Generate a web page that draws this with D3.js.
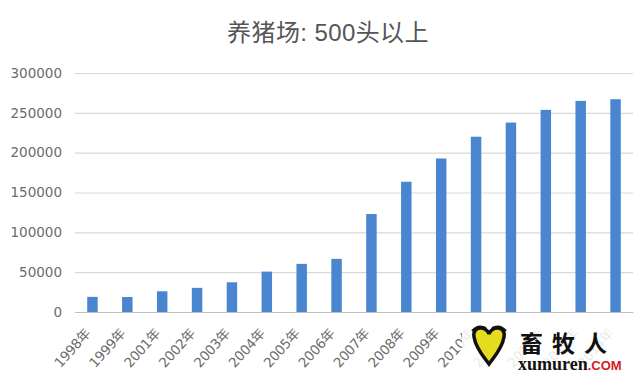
<!DOCTYPE html>
<html>
<head>
<meta charset="utf-8">
<script src="https://cdn.jsdelivr.net/npm/d3@7"></script>
<style>
  body { margin: 0; background: #fff; }
  svg { display: block; font-family: "Liberation Sans", "Noto Sans CJK SC", sans-serif; }
</style>
</head>
<body>
<div id="chart"></div>
<script>
// 养猪场: 500头以上 -- number of farms per year

const years = ["1998年", "1999年", "2001年", "2002年", "2003年", "2004年", "2005年", "2006年",
  "2007年", "2008年", "2009年", "2010年", "2011年", "2012年", "2013年", "2014年"];
const farms = [19000, 18800, 26000, 30300, 37300, 50700, 60400, 66700,
  123000, 163500, 192700, 220000, 237800, 253700, 265000, 267100];
const yTicks = [0, 50000, 100000, 150000, 200000, 250000, 300000];

const width = 640, height = 373;
const margin = { top: 73, right: 7, bottom: 61, left: 75 };

const svg = d3.select("#chart").append("svg")
  .attr("width", width)
  .attr("height", height);

const x = d3.scaleBand()
  .domain(years)
  .range([margin.left, width - margin.right])
  .paddingInner(0.7)
  .paddingOuter(0.35);

const y = d3.scaleLinear()
  .domain([0, 300000])
  .range([height - margin.bottom, margin.top]);

// title
svg.append("text")
  .attr("x", 328)
  .attr("y", 41)
  .attr("text-anchor", "middle")
  .attr("fill", "#555")
  .attr("font-size", 24)
  .attr("letter-spacing", "0.4")
  .text("养猪场: 500头以上");

// gridlines + y labels
const yAxis = svg.append("g")
  .attr("transform", `translate(${margin.left},0)`)
  .call(d3.axisLeft(y).tickValues(yTicks).tickSize(-(width - margin.left - margin.right)).tickPadding(13).tickFormat(d3.format("d")));
yAxis.select(".domain").remove();
yAxis.selectAll(".tick line").attr("stroke", "#d9d9d9").attr("stroke-width", 1.2);
yAxis.selectAll(".tick text")
  .attr("fill", "#6b6b6b")
  .attr("font-size", 13.5)
  .attr("font-family", "DejaVu Sans, sans-serif");

// bars
svg.append("g").selectAll("rect")
  .data(farms)
  .join("rect")
  .attr("x", (d, i) => x(years[i]))
  .attr("y", d => y(d))
  .attr("width", x.bandwidth())
  .attr("height", d => y(0) - y(d))
  .attr("fill", "#4a86cf");

// x axis
const xAxis = svg.append("g")
  .attr("transform", `translate(0,${y(0)})`)
  .call(d3.axisBottom(x).tickSize(0).tickPadding(0));
xAxis.select(".domain").attr("stroke", "#bfbfbf").attr("stroke-width", 1.2);
xAxis.selectAll(".tick text")
  .attr("fill", "#6b6b6b")
  .attr("font-size", 13.5)
  .attr("font-family", "DejaVu Sans, Noto Sans CJK SC, sans-serif")
  .attr("letter-spacing", "-0.3")
  .attr("text-anchor", "end")
  .attr("y", 0)
  .attr("dy", 0)
  .attr("transform", "translate(-1,22) rotate(-48)");

// watermark (covers the last labels, as in the source image)
const wm = svg.append("g");
wm.append("rect")
  .attr("x", 462).attr("y", 318).attr("width", 178).attr("height", 55)
  .attr("fill", "#fff").attr("opacity", 0.85);
wm.append("path")
  .attr("d", "M474,337 C472,325 487,326 489,334 C491,326 506,325 504,337 C502,349 494,357 489,364 C484,357 476,349 474,337 Z")
  .attr("fill", "#e6dc1e")
  .attr("stroke", "#111")
  .attr("stroke-width", 3.5);
wm.append("path")
  .attr("d", "M472,331 Q478,324 486,328 M492,328 Q500,324 506,331")
  .attr("fill", "none")
  .attr("stroke", "#111")
  .attr("stroke-width", 2);
wm.append("text")
  .attr("x", 520).attr("y", 352)
  .attr("font-size", 23).attr("font-weight", "bold")
  .attr("fill", "#111")
  .attr("font-family", "Noto Sans CJK SC, sans-serif")
  .attr("letter-spacing", "9")
  .text("畜牧人");
const url = wm.append("text")
  .attr("x", 518).attr("y", 370)
  .attr("font-family", "Liberation Serif, serif")
  .attr("font-weight", "bold");
url.append("tspan").attr("font-size", 18).attr("fill", "#111").text("xumuren");
url.append("tspan").attr("font-size", 13).attr("fill", "#d42020").attr("font-family", "Liberation Sans, sans-serif").text(".COM");
</script>
</body>
</html>
